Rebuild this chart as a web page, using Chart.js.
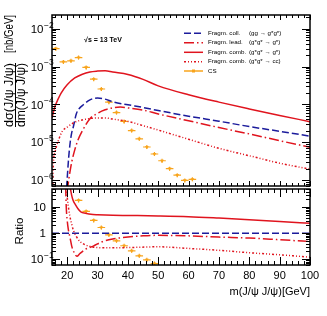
<!DOCTYPE html>
<html>
<head>
<meta charset="utf-8">
<script src="https://cdn.jsdelivr.net/npm/chart.js@4.4.1/dist/chart.umd.min.js"></script>
<style>
  html, body { margin: 0; padding: 0; background: #fff; }
  #wrap { position: relative; width: 327px; height: 316px; overflow: hidden; }
  #c1 { position: absolute; left: 0; top: 0; }
  #c2 { position: absolute; left: 0; top: 180px; }
</style>
</head>
<body>
<div id="wrap">
  <canvas id="c1" width="327" height="190"></canvas>
  <canvas id="c2" width="327" height="136"></canvas>
</div>
<script>
/* J/psi pair mass spectrum + ratio panel, ROOT look, Chart.js. */
var X_MIN = 15, X_MAX = 100;
var xTickLabels = [20, 30, 40, 50, 60, 70, 80, 90, 100];
var yDecades = [1e-6, 1e-5, 1e-4, 1e-3, 1e-2];
var yDecadeExp = ['\u22126', '\u22125', '\u22124', '\u22123', '\u22122'];
var ratioTicks = [0.1, 1, 10];

// Fragm. coll. (gg -> g*g*)
var collX = [19.8, 20.5, 21, 21.5, 22, 23, 24, 25, 27.5, 30, 32.5, 35, 40, 45, 50, 60, 70, 80, 90, 100];
var collY = [6.3e-7, 4.0e-6, 1.0e-5, 1.8e-5, 2.5e-5, 5.6e-5, 7.8e-5, 9.3e-5, 1.32e-4, 1.48e-4, 1.38e-4, 1.17e-4,
             9.8e-5, 8.3e-5, 6.9e-5, 4.9e-5, 3.6e-5, 2.6e-5, 1.95e-5, 1.45e-5];
// Fragm. lead. (g*g* -> g*)
var leadX = [20, 20.5, 21, 21.5, 22.5, 23.5, 25, 27.5, 30, 32.5, 35, 37.5, 40, 45, 50, 60, 70, 80, 90, 100];
var leadY = [5.0e-7, 1.0e-6, 1.8e-6, 3.0e-6, 6.3e-6, 1.12e-5, 2.0e-5, 4.2e-5, 5.8e-5, 7.2e-5, 8.1e-5, 8.5e-5,
             8.1e-5, 7.1e-5, 5.6e-5, 3.7e-5, 2.45e-5, 1.66e-5, 1.1e-5, 7.4e-6];
// Fragm. comb. (g*g* -> g*)
var combX = [15, 16, 17, 18, 20, 22.5, 25, 27.5, 30, 32.5, 35, 40, 45, 50, 60, 70, 80, 90, 100];
var combY = [4.4e-5, 8.9e-5, 1.38e-4, 2.0e-4, 3.3e-4, 5.0e-4, 6.3e-4, 7.2e-4, 7.6e-4, 7.8e-4, 7.2e-4, 6.2e-4,
             4.6e-4, 3.1e-4, 1.8e-4, 1.15e-4, 7.6e-5, 5.1e-5, 3.5e-5];
// Fragm. comb. (g*g* -> cc)
var ccX = [15.2, 15.5, 16, 16.5, 17, 18.3, 20, 22.5, 25, 30, 32.5, 35, 40, 45, 50, 60, 70, 80, 90, 100];
var ccY = [6.3e-7, 3.2e-6, 5.6e-6, 7.9e-6, 1.05e-5, 1.9e-5, 2.5e-5, 3.4e-5, 3.9e-5, 4.4e-5, 4.4e-5, 4.1e-5,
           3.55e-5, 2.75e-5, 2.1e-5, 1.2e-5, 6.9e-6, 4.4e-6, 2.8e-6, 1.95e-6];
// CS
var csX = [16.25, 18.75, 21.25, 23.75, 26.25, 28.75, 31.25, 33.75, 36.25, 38.75, 41.25, 43.75, 46.25, 48.75,
           51.25, 53.75, 56.25, 58.75, 61.25];
var csY = [2.97e-3, 1.33e-3, 1.42e-3, 1.73e-3, 9.5e-4, 4.65e-4, 2.56e-4, 1.15e-4, 6.1e-5, 3.55e-5, 2.03e-5,
           1.23e-5, 7.5e-6, 4.9e-6, 3.25e-6, 2.0e-6, 1.35e-6, 9.8e-7, 1.05e-6];
var csHalfWidth = 1.25;

// ratio panel (everything / Fragm. coll.)
var rCollX = [15, 100];
var rCollY = [1, 1];
var rCombX = [21, 21.5, 22, 22.7, 23.5, 24.5, 26, 28.5, 30, 35, 40, 50, 60, 70, 80, 90, 100];
var rCombY = [56, 28, 17.8, 12.6, 8.9, 6.6, 5.8, 5.2, 5.1, 4.9, 4.8, 4.6, 4.3, 3.8, 3.3, 2.8, 2.4];
var rLeadX = [19.5, 19.7, 20, 20.4, 21, 21.5, 22.3, 23.2, 24.2, 26, 28.6, 31.5, 35, 40, 45, 50, 60, 70, 80, 90, 100];
var rLeadY = [63, 10, 3.2, 1.35, 0.63, 0.32, 0.18, 0.13, 0.166, 0.24, 0.32, 0.47, 0.60, 0.71, 0.79, 0.83, 0.79,
              0.71, 0.65, 0.56, 0.48];
var rCcX = [19.6, 19.85, 20.3, 20.9, 21.5, 22, 23, 24.2, 25.5, 27.5, 30, 35, 40, 50, 60, 70, 80, 90, 100];
var rCcY = [56, 35, 12.6, 4.5, 2.2, 1.35, 0.76, 0.48, 0.38, 0.31, 0.28, 0.275, 0.28, 0.30, 0.26, 0.22, 0.178,
            0.148, 0.12];
var rCsX = [23.75, 26.25, 28.75, 31.25, 33.75, 36.25, 38.75, 41.25, 43.75, 46.25, 48.75];
var rCsY = [18.2, 6.9, 3.1, 1.66, 0.87, 0.51, 0.33, 0.21, 0.135, 0.095, 0.068];

var BLUE = '#1c1c9c', RED = '#e0141e', ORANGE = '#f8a41c';
var FONT = "'Liberation Sans', Arial, sans-serif";
var DASH_COLL = [7, 3], DASH_LEAD = [10, 3, 1.5, 3], DASH_CC = [2, 2, 1, 2, 1, 2];

Chart.defaults.font.family = FONT;
Chart.defaults.animation = false;

function pts(xs, ys) {
  return xs.map(function (x, i) { return { x: x, y: ys[i] }; });
}

function curve(xs, ys, color, dash, width) {
  return {
    data: pts(xs, ys), showLine: true, borderColor: color, backgroundColor: color,
    borderWidth: width || 1.5, borderDash: dash || [], pointRadius: 0, fill: false,
    cubicInterpolationMode: 'monotone', clip: 0
  };
}

function csSet(xs, ys) {
  return {
    data: pts(xs, ys), showLine: false, borderColor: ORANGE, backgroundColor: ORANGE,
    pointStyle: 'triangle', rotation: 180, pointRadius: 2.2, pointBorderWidth: 0,
    errX: csHalfWidth, clip: 0
  };
}

// horizontal bin-width bars for the CS points
var errBars = {
  id: 'errBars',
  beforeDatasetsDraw: function (chart) {
    var ctx = chart.ctx, xs = chart.scales.x, ys = chart.scales.y, a = chart.chartArea;
    ctx.save();
    ctx.beginPath();
    ctx.rect(a.left, a.top, a.right - a.left, a.bottom - a.top);
    ctx.clip();
    ctx.strokeStyle = ORANGE;
    ctx.lineWidth = 1.2;
    chart.data.datasets.forEach(function (ds) {
      if (!ds.errX) { return; }
      ds.data.forEach(function (p) {
        var py = ys.getPixelForValue(p.y);
        ctx.beginPath();
        ctx.moveTo(xs.getPixelForValue(p.x - ds.errX), py);
        ctx.lineTo(xs.getPixelForValue(p.x + ds.errX), py);
        ctx.moveTo(xs.getPixelForValue(p.x), py - 2);
        ctx.lineTo(xs.getPixelForValue(p.x), py + 2);
        ctx.stroke();
      });
    });
    ctx.restore();
  }
};

// ROOT-like frame with inward ticks on all four sides
function frameTicks(o) {
  return {
    id: 'frameTicks',
    afterDatasetsDraw: function (chart) {
      var ctx = chart.ctx, a = chart.chartArea;
      var xs = chart.scales.x, ys = chart.scales.y;
      ctx.save();
      ctx.strokeStyle = '#000';
      ctx.lineWidth = 1;
      ctx.beginPath();
      for (var v = 16; v <= X_MAX; v += 2) {
        var px = Math.round(xs.getPixelForValue(v)) + 0.5;
        var lb = v % 10 === 0 ? o.xMajB : o.xMinB;
        var lt = v % 10 === 0 ? o.xMajT : o.xMinT;
        ctx.moveTo(px, a.bottom); ctx.lineTo(px, a.bottom - lb);
        ctx.moveTo(px, a.top); ctx.lineTo(px, a.top + lt);
      }
      for (var e = -8; e <= 2; e++) {
        for (var k = 1; k <= 9; k++) {
          var val = k * Math.pow(10, e);
          if (val < ys.min || val > ys.max) { continue; }
          var py = Math.round(ys.getPixelForValue(val)) + 0.5;
          var l = k === 1 ? o.yMaj : o.yMin;
          ctx.moveTo(a.left, py); ctx.lineTo(a.left + l, py);
          ctx.moveTo(a.right, py); ctx.lineTo(a.right - l, py);
        }
      }
      ctx.stroke();
      ctx.lineWidth = 1.5;
      ctx.strokeRect(a.left, a.top, a.right - a.left, a.bottom - a.top);
      ctx.restore();
    }
  };
}

// draws text rotated by -90deg, stretched to a given length
function vText(ctx, text, cx, cy, len, font) {
  ctx.save();
  ctx.font = font;
  var w = ctx.measureText(text).width;
  ctx.translate(cx, cy);
  ctx.rotate(-Math.PI / 2);
  if (len) { ctx.scale(len / w, 1); }
  ctx.textAlign = 'center';
  ctx.textBaseline = 'middle';
  ctx.fillText(text, 0, 0);
  ctx.restore();
}

function pow10Label(ctx, exp, rightX, py) {
  ctx.font = '11.5px ' + FONT;
  ctx.textAlign = 'right';
  ctx.textBaseline = 'middle';
  ctx.fillText('10', rightX, py + 1);
  ctx.font = '8.5px ' + FONT;
  ctx.textAlign = 'left';
  ctx.fillText(exp, rightX + 0.5, py - 3.5);
}

var legendRows = [
  { a: 'Fragm. coll.', b: '(gg \u2192 g*g*)', color: BLUE, dash: DASH_COLL },
  { a: 'Fragm. lead.', b: '(g*g* \u2192 g*)', color: RED, dash: DASH_LEAD },
  { a: 'Fragm. comb.', b: '(g*g* \u2192 g*)', color: RED, dash: [] },
  { a: 'Fragm. comb.', b: '(g*g* \u2192 cc)', color: RED, dash: DASH_CC },
  { a: 'CS', b: '', color: ORANGE, dash: [], marker: true }
];
var legendY = [33.3, 42.7, 52.3, 61.7, 71];

var topText = {
  id: 'topText',
  afterDraw: function (chart) {
    var ctx = chart.ctx, ys = chart.scales.y;
    ctx.save();
    ctx.fillStyle = '#000';
    yDecades.forEach(function (d, i) {
      pow10Label(ctx, yDecadeExp[i], 43.5, ys.getPixelForValue(d));
    });
    // axis title
    vText(ctx, 'd\u03c3(J/\u03c8 J/\u03c8)', 9.5, 95, 64, '12px ' + FONT);
    vText(ctx, 'dm(J/\u03c8 J/\u03c8)', 22, 95, 64, '12px ' + FONT);
    ctx.fillRect(15, 63, 1, 64);
    vText(ctx, '[nb/GeV]', 9.5, 34, 38, '12px ' + FONT);
    // energy label
    ctx.font = 'bold 7px ' + FONT;
    ctx.textAlign = 'center';
    ctx.textBaseline = 'middle';
    ctx.fillText('\u221as = 13 TeV', 103, 40);
    // legend
    legendRows.forEach(function (r, i) {
      var y = legendY[i];
      ctx.save();
      ctx.strokeStyle = r.color;
      ctx.lineWidth = 1.5;
      ctx.setLineDash(r.dash);
      ctx.beginPath();
      ctx.moveTo(184, y); ctx.lineTo(203, y);
      ctx.stroke();
      ctx.restore();
      if (r.marker) {
        ctx.fillStyle = ORANGE;
        ctx.fillRect(192, y - 1.5, 3, 3);
        ctx.fillStyle = '#000';
      }
      ctx.font = '6.2px ' + FONT;
      ctx.textAlign = 'left';
      ctx.textBaseline = 'middle';
      ctx.fillText(r.a, 208, y);
      if (r.b) { ctx.fillText(r.b, 249, y); }
    });
    ctx.restore();
  }
};

var botText = {
  id: 'botText',
  afterDraw: function (chart) {
    var ctx = chart.ctx, xs = chart.scales.x, ys = chart.scales.y, a = chart.chartArea;
    ctx.save();
    ctx.fillStyle = '#000';
    ctx.font = '11.5px ' + FONT;
    ctx.textBaseline = 'middle';
    ctx.textAlign = 'right';
    ctx.fillText('10', 46, ys.getPixelForValue(10) + 1);
    ctx.fillText('1', 46, ys.getPixelForValue(1) + 1);
    pow10Label(ctx, '\u22121', 43.5, ys.getPixelForValue(0.1));
    ctx.font = '11px ' + FONT;
    ctx.textAlign = 'center';
    ctx.textBaseline = 'top';
    xTickLabels.forEach(function (v) {
      ctx.fillText(String(v), xs.getPixelForValue(v), a.bottom + 5);
    });
    ctx.textAlign = 'right';
    ctx.textBaseline = 'middle';
    ctx.fillText('m(J/\u03c8 J/\u03c8)[GeV]', a.right, 292 - 180);
    vText(ctx, 'Ratio', 19.5, 231 - 180, 0, '11.5px ' + FONT);
    ctx.restore();
  }
};

function baseOptions(pad, yMin, yMax) {
  return {
    responsive: false,
    devicePixelRatio: 1,
    animation: false,
    layout: { padding: pad },
    plugins: { legend: { display: false }, tooltip: { enabled: false } },
    scales: {
      x: { type: 'linear', min: X_MIN, max: X_MAX, display: false },
      y: { type: 'logarithmic', min: yMin, max: yMax, display: false }
    }
  };
}

new Chart(document.getElementById('c1'), {
  type: 'scatter',
  data: {
    datasets: [
      curve(combX, combY, RED, [], 1.5),
      curve(ccX, ccY, RED, DASH_CC, 1.5),
      curve(leadX, leadY, RED, DASH_LEAD, 1.5),
      curve(collX, collY, BLUE, DASH_COLL, 1.5),
      csSet(csX, csY)
    ]
  },
  options: baseOptions({ left: 52, right: 17, top: 15, bottom: 1 }, 6.98e-7, 0.0231),
  plugins: [errBars, frameTicks({ xMajB: 5, xMinB: 3, xMajT: 5, xMinT: 3, yMaj: 8, yMin: 4 }), topText]
});

new Chart(document.getElementById('c2'), {
  type: 'scatter',
  data: {
    datasets: [
      curve(rCombX, rCombY, RED, [], 1.5),
      curve(rCcX, rCcY, RED, DASH_CC, 1.5),
      curve(rLeadX, rLeadY, RED, DASH_LEAD, 1.5),
      curve(rCollX, rCollY, BLUE, DASH_COLL, 1.5),
      csSet(rCsX, rCsY)
    ]
  },
  options: baseOptions({ left: 52, right: 17, top: 9, bottom: 51 }, 0.06, 50),
  plugins: [errBars, frameTicks({ xMajB: 8, xMinB: 4, xMajT: 8, xMinT: 4, yMaj: 8, yMin: 4 }), botText]
});
</script>
</body>
</html>
